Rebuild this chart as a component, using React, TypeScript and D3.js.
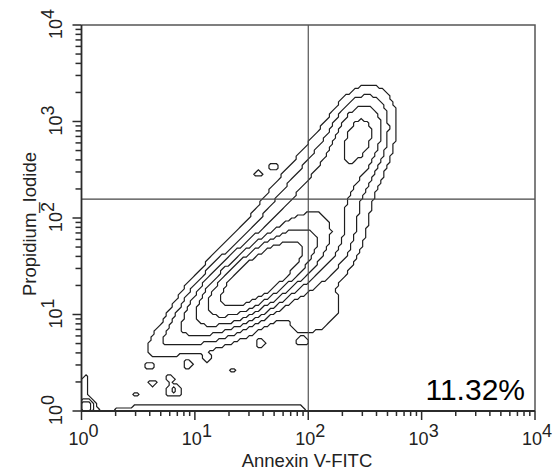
import React from "react";
import * as d3 from "d3";

// Axis decades (log10 fluorescence)
const decades = [0, 1, 2, 3, 4];
const minorSteps = [2, 3, 4, 5, 6, 7, 8, 9];

// Quadrant gates (fluorescence units)
const gateAnnexin = 100;
const gatePI = 157;
const quadrantLabel = "11.32%";

// Cell populations: centers (fluorescence units),
// spreads (decades, along/across the population axis), tilt (deg), relative peak density
const popName = ["core", "halo", "body", "rightBulge", "lateCluster", "lateBody", "lowerLobe", "earlyTail", "debrisBand", "debrisBand2", "origin", "axisY", "edgeBump"];
const popAnnexin = [37, 32, 95, 135, 290, 220, 120, 7, 8, 50, 1.07, 1.07, 6.5];
const popPI = [25, 22, 120, 45, 760, 380, 9.5, 6.3, 1.05, 1.07, 1.1, 1.7, 1.6];
const popSpreadMajor = [0.36, 0.5, 0.62, 0.3, 0.22, 0.33, 0.22, 0.25, 0.55, 0.25, 0.05, 0.2, 0.08];
const popSpreadMinor = [0.14, 0.24, 0.2, 0.18, 0.12, 0.17, 0.12, 0.1, 0.035, 0.035, 0.05, 0.03, 0.06];
const popTilt = [42, 45, 58, 60, 80, 75, 40, 40, 0, 0, 0, 90, 0];
const popPeak = [1.0, 0.05, 0.13, 0.07, 0.17, 0.06, 0.035, 0.04, 0.04, 0.03, 0.15, 0.03, 0.03];

// Small isolated events (outer contour islands)
const satAnnexin = [4.0, 8.7, 12.9, 21.9, 6.0, 4.2, 2.95, 38, 6.5, 36, 48, 88];
const satPI = [2.9, 3.0, 3.55, 2.63, 2.19, 1.95, 1.48, 5.0, 1.7, 292, 345, 5.2];

// Relative contour levels
const levels = [0.55, 0.33, 0.19, 0.1, 0.05, 0.022];

const W = 558;
const H = 474;
const left = 81.5;
const right = 535;
const top = 25;
const bottom = 411;

const xScale = d3.scaleLog().domain([1, 1e4]).range([left, right]);
const yScale = d3.scaleLog().domain([1, 1e4]).range([bottom, top]);

const NX = 150;
const NY = 128;

function buildGrid(): number[] {
  const vals: number[] = new Array(NX * NY).fill(0);
  const comps = popName.map((_, i) => ({
    u: Math.log10(popAnnexin[i]),
    v: Math.log10(popPI[i]),
    a: popSpreadMajor[i],
    b: popSpreadMinor[i],
    t: (popTilt[i] * Math.PI) / 180,
    p: popPeak[i],
  }));
  satAnnexin.forEach((sx, i) => {
    comps.push({ u: Math.log10(sx), v: Math.log10(satPI[i]), a: 0.035, b: 0.03, t: 0, p: 0.03 });
  });
  for (let j = 0; j < NY; j++) {
    const v = 4 - ((j + 0.5) / NY) * 4;
    for (let i = 0; i < NX; i++) {
      const u = ((i + 0.5) / NX) * 4;
      let s = 0;
      for (const c of comps) {
        const du = u - c.u;
        const dv = v - c.v;
        const m = du * Math.cos(c.t) + dv * Math.sin(c.t);
        const n = -du * Math.sin(c.t) + dv * Math.cos(c.t);
        s += c.p * Math.exp(-0.5 * ((m * m) / (c.a * c.a) + (n * n) / (c.b * c.b)));
      }
      vals[i + j * NX] = s;
    }
  }
  return vals;
}

export default function App() {
  const grid = buildGrid();
  const contours = d3.contours().size([NX, NY]).smooth(false).thresholds(levels)(grid);
  const proj = d3.geoTransform({
    point(x: number, y: number) {
      const u = (x / NX) * 4;
      const v = 4 - (y / NY) * 4;
      (this as any).stream.point(xScale(Math.pow(10, u)), yScale(Math.pow(10, v)));
    },
  });
  const path = d3.geoPath(proj);

  const ticks: { v: number; major: boolean }[] = [];
  decades.forEach((d) => {
    ticks.push({ v: Math.pow(10, d), major: true });
    if (d < 4) minorSteps.forEach((k) => ticks.push({ v: k * Math.pow(10, d), major: false }));
  });

  const font = "'Liberation Sans', Arial, sans-serif";
  const lineCol = "#2b2b2b";

  return (
    <svg width={W} height={H} style={{ display: "block", position: "absolute", left: 0, top: 0, background: "#fff" }}>
      <rect x={0} y={0} width={W} height={H} fill="#fff" />
      <defs>
        <clipPath id="plotclip">
          <rect x={left} y={top} width={right - left} height={bottom - top} />
        </clipPath>
      </defs>
      <g clipPath="url(#plotclip)">
        {contours.map((c, i) => (
          <path key={i} d={path(c as any) || ""} fill="none" stroke="#1e1e1e" strokeWidth={1.2} strokeLinejoin="miter" />
        ))}
      </g>
      {/* quadrant lines */}
      <line x1={xScale(gateAnnexin)} x2={xScale(gateAnnexin)} y1={top} y2={bottom} stroke="#444" strokeWidth={1.1} />
      <line x1={left} x2={right} y1={yScale(gatePI)} y2={yScale(gatePI)} stroke="#444" strokeWidth={1.1} />
      {/* frame */}
      <path d={`M${left},${top}H${right}V${bottom}`} fill="none" stroke="#555" strokeWidth={1.5} />
      <line x1={left} x2={right} y1={bottom} y2={bottom} stroke={lineCol} strokeWidth={1.8} />
      <line x1={left} x2={left} y1={top} y2={bottom} stroke={lineCol} strokeWidth={1.8} />
      {/* x ticks */}
      {ticks.map((t, i) => (
        <line key={"xt" + i} x1={xScale(t.v)} x2={xScale(t.v)} y1={bottom} y2={bottom + (t.major ? 9 : 5)} stroke={lineCol} strokeWidth={1.5} />
      ))}
      {ticks.map((t, i) => (
        <line key={"yt" + i} x1={left} x2={left - (t.major ? 9 : 6)} y1={yScale(t.v)} y2={yScale(t.v)} stroke={lineCol} strokeWidth={1.5} />
      ))}
      {decades.map((d) => (
        <text key={"xl" + d} x={xScale(Math.pow(10, d)) + 2} y={445} textAnchor="middle" fontFamily={font} fontSize={18} fill="#222">
          10<tspan dy={-8}>{d}</tspan>
        </text>
      ))}
      {decades.map((d) => (
        <text key={"yl" + d} transform={`translate(62,${yScale(Math.pow(10, d)) - 1}) rotate(-90)`} textAnchor="middle" fontFamily={font} fontSize={18} fill="#222">
          10<tspan dy={-8}>{d}</tspan>
        </text>
      ))}
      <text x={307} y={467} textAnchor="middle" fontFamily={font} fontSize={18.5} fill="#222">Annexin V-FITC</text>
      <text transform="translate(36,224) rotate(-90)" textAnchor="middle" fontFamily={font} fontSize={18.5} fill="#222">Propidium_Iodide</text>
      <text x={525} y={400} textAnchor="end" fontFamily={font} fontSize={30} fill="#000">{quadrantLabel}</text>
    </svg>
  );
}
